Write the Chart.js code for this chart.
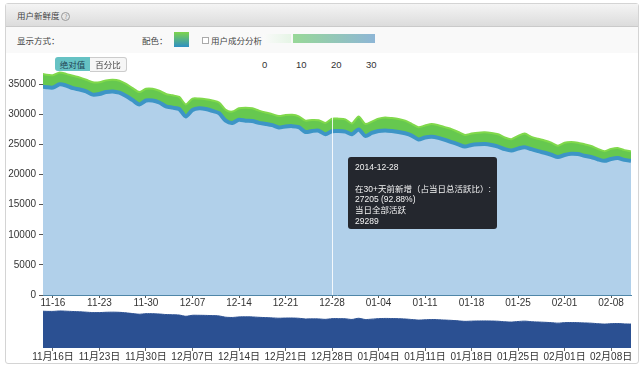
<!DOCTYPE html>
<html>
<head>
<meta charset="utf-8">
<script src="https://cdn.jsdelivr.net/npm/chart.js@4/dist/chart.umd.min.js"></script>
<style>
  body { margin: 0; background: #fff; font-family: "Liberation Sans", "Noto Sans CJK SC", sans-serif; }
  #wrap { position: relative; width: 640px; height: 370px; overflow: hidden; }
  .panel { position: absolute; left: 5px; top: 3px; width: 632px; height: 359px; border: 1px solid #d4d4d4; border-radius: 3px; }
  .head { position: absolute; left: 6px; top: 4px; width: 632px; height: 22px; background: linear-gradient(#f4f4f4, #dcdcdc); border-bottom: 1px solid #cacaca; }
  .row { position: absolute; left: 6px; top: 27px; width: 632px; height: 26px; background: #f9f9f9; }
  .txt { position: absolute; font-size: 8.5px; color: #444; white-space: nowrap; font-family: "Noto Sans CJK SC", sans-serif; }
  .num { position: absolute; font-size: 9.5px; color: #333; }
  canvas { position: absolute; left: 0; }
  #tip { position: absolute; left: 348px; top: 157px; width: 149px; height: 72px; background: rgba(28,30,36,0.95);
         border-radius: 3px; color: #f2f2f2; font-size: 8.5px; line-height: 10.8px; padding: 5px 7px; box-sizing: border-box;
         white-space: nowrap; font-family: "Liberation Sans", "Noto Sans CJK SC", sans-serif; }
  .btn { position: absolute; top: 57px; height: 14px; font-size: 8.5px; line-height: 14px; text-align: center; font-family: "Noto Sans CJK SC", sans-serif; }
</style>
</head>
<body>
<div id="wrap">
  <div class="panel"></div>
  <div class="head"></div>
  <div class="row"></div>
  <div class="txt" style="left:17px;top:9px;">用户新鲜度 <span style="display:inline-block;width:7px;height:7px;border:1px solid #999;border-radius:50%;font-size:6px;line-height:7px;text-align:center;color:#888;">?</span></div>
  <div class="txt" style="left:17px;top:34px;">显示方式：</div>
  <div class="txt" style="left:142px;top:34px;">配色：</div>
  <div style="position:absolute;left:174px;top:32px;width:15px;height:15px;background:linear-gradient(#7ed44c,#2e8fc4);"></div>
  <div style="position:absolute;left:202px;top:37px;width:5px;height:5px;border:1px solid #aaa;background:#fff;"></div>
  <div class="txt" style="left:211px;top:34px;">用户成分分析</div>
  <div style="position:absolute;left:263px;top:34px;width:28px;height:9px;background:linear-gradient(90deg,#fafafa,#e6f5e6);"></div>
  <div style="position:absolute;left:293px;top:34px;width:82px;height:9px;background:linear-gradient(90deg,#98d898,#8eb6d6);"></div>
  <div class="num" style="left:262px;top:59px;">0</div>
  <div class="num" style="left:296px;top:59px;">10</div>
  <div class="num" style="left:331px;top:59px;">20</div>
  <div class="num" style="left:366px;top:59px;">30</div>
  <canvas id="main" width="640" height="252" style="top:60px;"></canvas>
  <canvas id="nav" width="640" height="60" style="top:306px;"></canvas>
  <div class="btn" style="left:55px;width:35px;background:#66c2c4;color:#245;border-radius:3px 0 0 3px;">绝对值</div>
  <div class="btn" style="left:90px;width:36px;background:#f6f6f6;color:#444;border:1px solid #ccc;border-left:none;height:13px;line-height:13px;border-radius:0 3px 3px 0;">百分比</div>
  <div id="tip"></div>
</div>
<script>
// dates 2014-11-14 .. 2015-02-11
const dates = [];
for (let i = 0; i < 90; i++) {
  const d = new Date(2014, 10, 14 + i);
  dates.push(d.getFullYear() + "-" + String(d.getMonth() + 1).padStart(2, "0") + "-" + String(d.getDate()).padStart(2, "0"));
}

// active users that were new 30+ days ago
const fresh30 = [
  34680, 34520, 34460, 35000, 34790, 34360, 34140, 33820, 33280, 33390,
  33710, 33820, 33600, 33060, 32360, 31660, 32310, 32310, 31980, 31340,
  31120, 30900, 29660, 30740, 31010, 30900, 30580, 30200, 28960, 28590,
  29120, 28960, 28910, 28590, 28420, 28210, 27830, 27990, 28050, 27880,
  27080, 27240, 27290, 26700, 27205, 27240, 27130, 26700, 27510, 26430,
  26910, 27240, 27340, 27240, 27080, 26860, 26480, 25830, 26160, 26270,
  26100, 25780, 25400, 25030, 24650, 24920, 25030, 25080, 24920, 24650,
  24220, 24000, 24320, 24540, 24220, 23890, 23620, 23300, 22920, 23250,
  23460, 23410, 23140, 22920, 22550, 22280, 22600, 22760, 22440, 22280
];

// all active users of the day
const totalActive = [
  36840, 36570, 36510, 36950, 36730, 36410, 36140, 35760, 35330, 35330,
  35650, 35760, 35600, 35060, 34360, 33710, 34250, 34250, 33920, 33390,
  33170, 32900, 31660, 32630, 32630, 32520, 32310, 31980, 30740, 30470,
  31010, 31120, 31010, 30630, 30310, 30040, 29720, 29880, 29930, 29660,
  28960, 29070, 29020, 28590, 29289, 29290, 29180, 28480, 29660, 28420,
  28800, 29290, 29500, 29390, 29230, 28960, 28420, 27880, 28150, 28420,
  28210, 27880, 27560, 27080, 26590, 26810, 26970, 27020, 26910, 26700,
  26160, 25890, 26430, 26810, 26270, 25940, 25670, 25300, 24810, 25300,
  25400, 25300, 25030, 24760, 24270, 23890, 24270, 24430, 24060, 23890
];

const xTicks = ["11-16", "11-23", "11-30", "12-07", "12-14", "12-21", "12-28", "01-04", "01-11", "01-18", "01-25", "02-01", "02-08"];
const navTicks = ["11月16日", "11月23日", "11月30日", "12月07日", "12月14日", "12月21日", "12月28日", "01月04日", "01月11日", "01月18日", "01月25日", "02月01日", "02月08日"];
const yTicks = [0, 5000, 10000, 15000, 20000, 25000, 30000, 35000];
const hoverDate = "2014-12-28";

const hoverIdx = dates.indexOf(hoverDate);
const tickIdx = xTicks.map(t => dates.findIndex(d => d.slice(5) === t));
const pts = arr => arr.map((v, i) => ({ x: i, y: v }));
const font = { family: "'Liberation Sans', 'Noto Sans CJK SC', sans-serif", size: 10 };

const hoverLine = {
  id: "hoverLine",
  afterDatasetsDraw(chart) {
    const x = chart.scales.x.getPixelForValue(hoverIdx);
    const c = chart.ctx;
    c.save();
    c.strokeStyle = "rgba(255,255,255,0.85)";
    c.lineWidth = 1;
    c.beginPath();
    c.moveTo(Math.round(x) + 0.5, chart.chartArea.top);
    c.lineTo(Math.round(x) + 0.5, chart.chartArea.bottom);
    c.stroke();
    c.restore();
  }
};

new Chart(document.getElementById("main"), {
  type: "line",
  data: {
    datasets: [
      {
        label: "30+",
        data: pts(fresh30),
        fill: "origin",
        backgroundColor: "#b1d0ea",
        borderColor: "#3d95c6",
        borderWidth: 4,
        pointRadius: 0,
        tension: 0.25
      },
      {
        label: "total",
        data: pts(totalActive),
        fill: "-1",
        backgroundColor: "#66c84f",
        borderColor: "#80d94b",
        borderWidth: 2,
        pointRadius: 0,
        tension: 0.25
      }
    ]
  },
  options: {
    responsive: false,
    animation: false,
    layout: { padding: { top: 3, right: 9, left: 0, bottom: 0 } },
    plugins: { legend: { display: false }, tooltip: { enabled: false } },
    scales: {
      x: {
        type: "linear",
        min: 0.5,
        max: 89,
        afterFit: s => { s.height = 17; },
        afterBuildTicks: s => { s.ticks = tickIdx.map(v => ({ value: v })); },
        ticks: { callback: (v, i) => xTicks[i], color: "#333", font, padding: -1, maxRotation: 0, autoSkip: false },
        grid: { drawOnChartArea: false, tickLength: 3, color: "#555" },
        border: { color: "#4f86a8" }
      },
      y: {
        min: 0,
        max: 37540,
        afterFit: s => { s.width = 43; },
        afterBuildTicks: s => { s.ticks = yTicks.map(v => ({ value: v })); },
        ticks: { callback: v => String(v), color: "#333", font, padding: 3 },
        grid: { drawOnChartArea: false, tickLength: 4, color: "#555" },
        border: { display: false }
      }
    }
  },
  plugins: [hoverLine]
});

new Chart(document.getElementById("nav"), {
  type: "line",
  data: {
    datasets: [{
      data: pts(totalActive),
      fill: "origin",
      backgroundColor: "#2b5092",
      borderColor: "#2b5092",
      borderWidth: 1,
      pointRadius: 0,
      tension: 0.25
    }]
  },
  options: {
    responsive: false,
    animation: false,
    layout: { padding: { top: 0, right: 9, left: 43, bottom: 0 } },
    plugins: { legend: { display: false }, tooltip: { enabled: false } },
    scales: {
      x: {
        type: "linear",
        min: 0.5,
        max: 89,
        afterFit: s => { s.height = 18; },
        afterBuildTicks: s => { s.ticks = tickIdx.map(v => ({ value: v })); },
        ticks: { callback: (v, i) => navTicks[i], color: "#333", font, padding: 0, maxRotation: 0, autoSkip: false },
        grid: { drawOnChartArea: false, tickLength: 3, color: "#666" },
        border: { display: false }
      },
      y: { display: false, min: 0, max: 41900 }
    }
  }
});

const pct = (fresh30[hoverIdx] / totalActive[hoverIdx] * 100).toFixed(2);
document.getElementById("tip").innerHTML =
  hoverDate + "<br><br>在30+天前新增（占当日总活跃比）:<br>" +
  fresh30[hoverIdx] + " (" + pct + "%)<br>当日全部活跃<br>" + totalActive[hoverIdx];
</script>
</body>
</html>
